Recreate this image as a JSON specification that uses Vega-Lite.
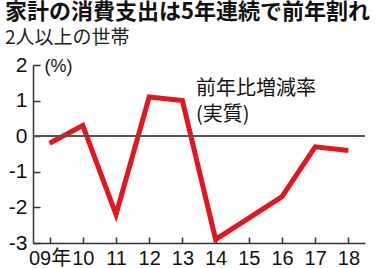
{
  "$schema": "https://vega.github.io/schema/vega-lite/v6.json",
  "width": 332,
  "height": 178,
  "autosize": "none",
  "padding": {"left": 33, "top": 65, "right": 15, "bottom": 25},
  "background": "white",
  "title": {
    "text": "家計の消費支出は5年連続で前年割れ",
    "subtitle": "2人以上の世帯",
    "anchor": "start",
    "frame": "group",
    "dx": -28,
    "offset": 5,
    "font": "Noto Sans CJK JP",
    "fontSize": 22,
    "fontWeight": "bold",
    "color": "#111",
    "subtitleFont": "Noto Sans CJK JP",
    "subtitleFontSize": 19,
    "subtitleColor": "#222",
    "subtitlePadding": 5
  },
  "datasets": {
    "series": [
      {"year": 2009, "rate": -0.2},
      {"year": 2010, "rate": 0.3},
      {"year": 2011, "rate": -2.2},
      {"year": 2012, "rate": 1.1},
      {"year": 2013, "rate": 1.0},
      {"year": 2014, "rate": -2.9},
      {"year": 2015, "rate": -2.3},
      {"year": 2016, "rate": -1.7},
      {"year": 2017, "rate": -0.3},
      {"year": 2018, "rate": -0.4}
    ],
    "note": [
      {"label": "前年比増減率\n(実質)"}
    ]
  },
  "config": {
    "view": {"stroke": null},
    "axis": {
      "grid": false,
      "domainColor": "#333",
      "domainWidth": 1.5,
      "tickColor": "#333",
      "tickWidth": 1.5,
      "labelFont": "Liberation Sans Narrow, Liberation Sans, Noto Sans CJK JP",
      "labelFontSize": 21,
      "labelColor": "#111",
      "labelOverlap": false
    }
  },
  "layer": [
    {
      "data": {"name": "series"},
      "mark": {"type": "line", "color": "#e3151f", "strokeWidth": 5, "strokeJoin": "miter", "strokeCap": "butt"},
      "encoding": {
        "x": {
          "field": "year",
          "type": "quantitative",
          "scale": {"domain": [2008.5, 2018.5], "nice": false, "zero": false},
          "axis": {
            "values": [2009, 2010, 2011, 2012, 2013, 2014, 2015, 2016, 2017, 2018],
            "labelExpr": "datum.value == 2009 ? '09年' : substring(toString(datum.value), 2, 4)",
            "labelFontSize": 20,
            "tickSize": -6,
            "labelPadding": 11,
            "title": null,
            "labelFlush": false,
            "labelOverlap": false
          }
        },
        "y": {
          "field": "rate",
          "type": "quantitative",
          "scale": {"domain": [-3, 2], "nice": false},
          "axis": {
            "values": [-3, -2, -1, 0, 1, 2],
            "labelExpr": "toString(datum.value)",
            "tickSize": -7,
            "labelPadding": 13,
            "labelFlush": false,
            "labelOverlap": false,
            "title": "(%)",
            "titleAngle": 0,
            "titleX": 11,
            "titleY": 1,
            "titleAlign": "left",
            "titleBaseline": "middle",
            "titleFont": "Liberation Sans",
            "titleFontSize": 18,
            "titleFontWeight": "normal",
            "titleColor": "#111"
          }
        }
      }
    },
    {
      "data": {"name": "series"},
      "mark": {"type": "rule", "color": "#555", "strokeWidth": 1},
      "encoding": {
        "y": {
          "datum": 0,
          "type": "quantitative",
          "axis": {
            "values": [-3, -2, -1, 0, 1, 2],
            "labelExpr": "toString(datum.value)",
            "tickSize": -7,
            "labelPadding": 13,
            "labelFlush": false,
            "labelOverlap": false,
            "title": "(%)",
            "titleAngle": 0,
            "titleX": 11,
            "titleY": 1,
            "titleAlign": "left",
            "titleBaseline": "middle",
            "titleFont": "Liberation Sans",
            "titleFontSize": 18,
            "titleFontWeight": "normal",
            "titleColor": "#111"
          }
        }
      }
    },
    {
      "data": {"name": "note"},
      "mark": {"type": "text", "align": "left", "baseline": "alphabetic", "font": "Noto Sans CJK JP", "fontSize": 20, "fontWeight": "normal", "lineHeight": 26, "lineBreak": "\n", "color": "#111"},
      "encoding": {
        "x": {
          "datum": 2013.41,
          "type": "quantitative",
          "axis": {
            "values": [2009, 2010, 2011, 2012, 2013, 2014, 2015, 2016, 2017, 2018],
            "labelExpr": "datum.value == 2009 ? '09年' : substring(toString(datum.value), 2, 4)",
            "labelFontSize": 20,
            "tickSize": -6,
            "labelPadding": 11,
            "title": null,
            "labelFlush": false,
            "labelOverlap": false
          }
        },
        "y": {
          "datum": 1.15,
          "type": "quantitative",
          "axis": {
            "values": [-3, -2, -1, 0, 1, 2],
            "labelExpr": "toString(datum.value)",
            "tickSize": -7,
            "labelPadding": 13,
            "labelFlush": false,
            "labelOverlap": false,
            "title": "(%)",
            "titleAngle": 0,
            "titleX": 11,
            "titleY": 1,
            "titleAlign": "left",
            "titleBaseline": "middle",
            "titleFont": "Liberation Sans",
            "titleFontSize": 18,
            "titleFontWeight": "normal",
            "titleColor": "#111"
          }
        },
        "text": {"field": "label"}
      }
    }
  ]
}
